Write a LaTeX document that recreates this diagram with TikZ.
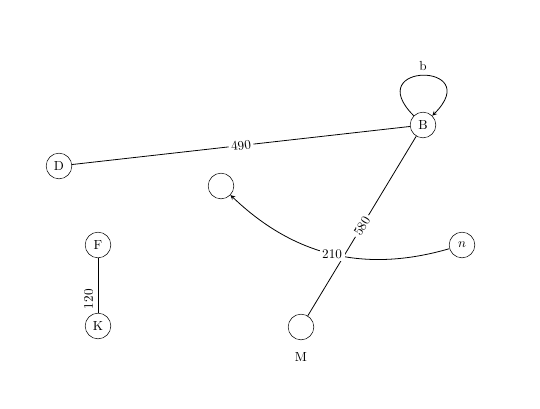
\documentclass[tikz,border=0pt]{standalone}
\usepackage{tikz}
\usetikzlibrary{arrows, positioning}

\begin{document}
\begin{tikzpicture}[x=0.0267cm, y=0.0267cm, >=stealth,
    vertex/.style={draw, circle, thin, minimum size=19.5pt, inner sep=1pt},
    wlabel/.style={fill=white, inner sep=2pt, sloped}]
        \useasboundingbox (0,0) rectangle (540,408);

        % Các đỉnh
        \node[vertex] (B) at (423,283) {B};
        \node[vertex] (D) at (59,242) {D};
        \node[vertex] (E) at (221,222) {};
        \node[vertex] (F) at (98,163) {F};
        \node[vertex] (K) at (98,82) {K};
        \node[vertex, label={[label distance=2mm]below:M}] (M) at (301,81) {};
        \node[vertex] (N) at (462,163) {$n$};

        % Các cạnh
        \draw[semithick] (D) -- node[wlabel, midway] {490} (B);
        \draw[semithick] (M) -- node[wlabel, midway] {580} (B);
        \draw[semithick] (K) -- node[sloped, above, near start] {120} (F);
        \draw[semithick, ->] (N) to[bend left=30] node[fill=white, inner sep=2pt, midway] {210} (E);

        % Khuyên tại B
        \draw[semithick, ->] (B.135) .. controls +(135:76) and +(45:76) .. node[above] {b} (B.45);
\end{tikzpicture}
\end{document}
